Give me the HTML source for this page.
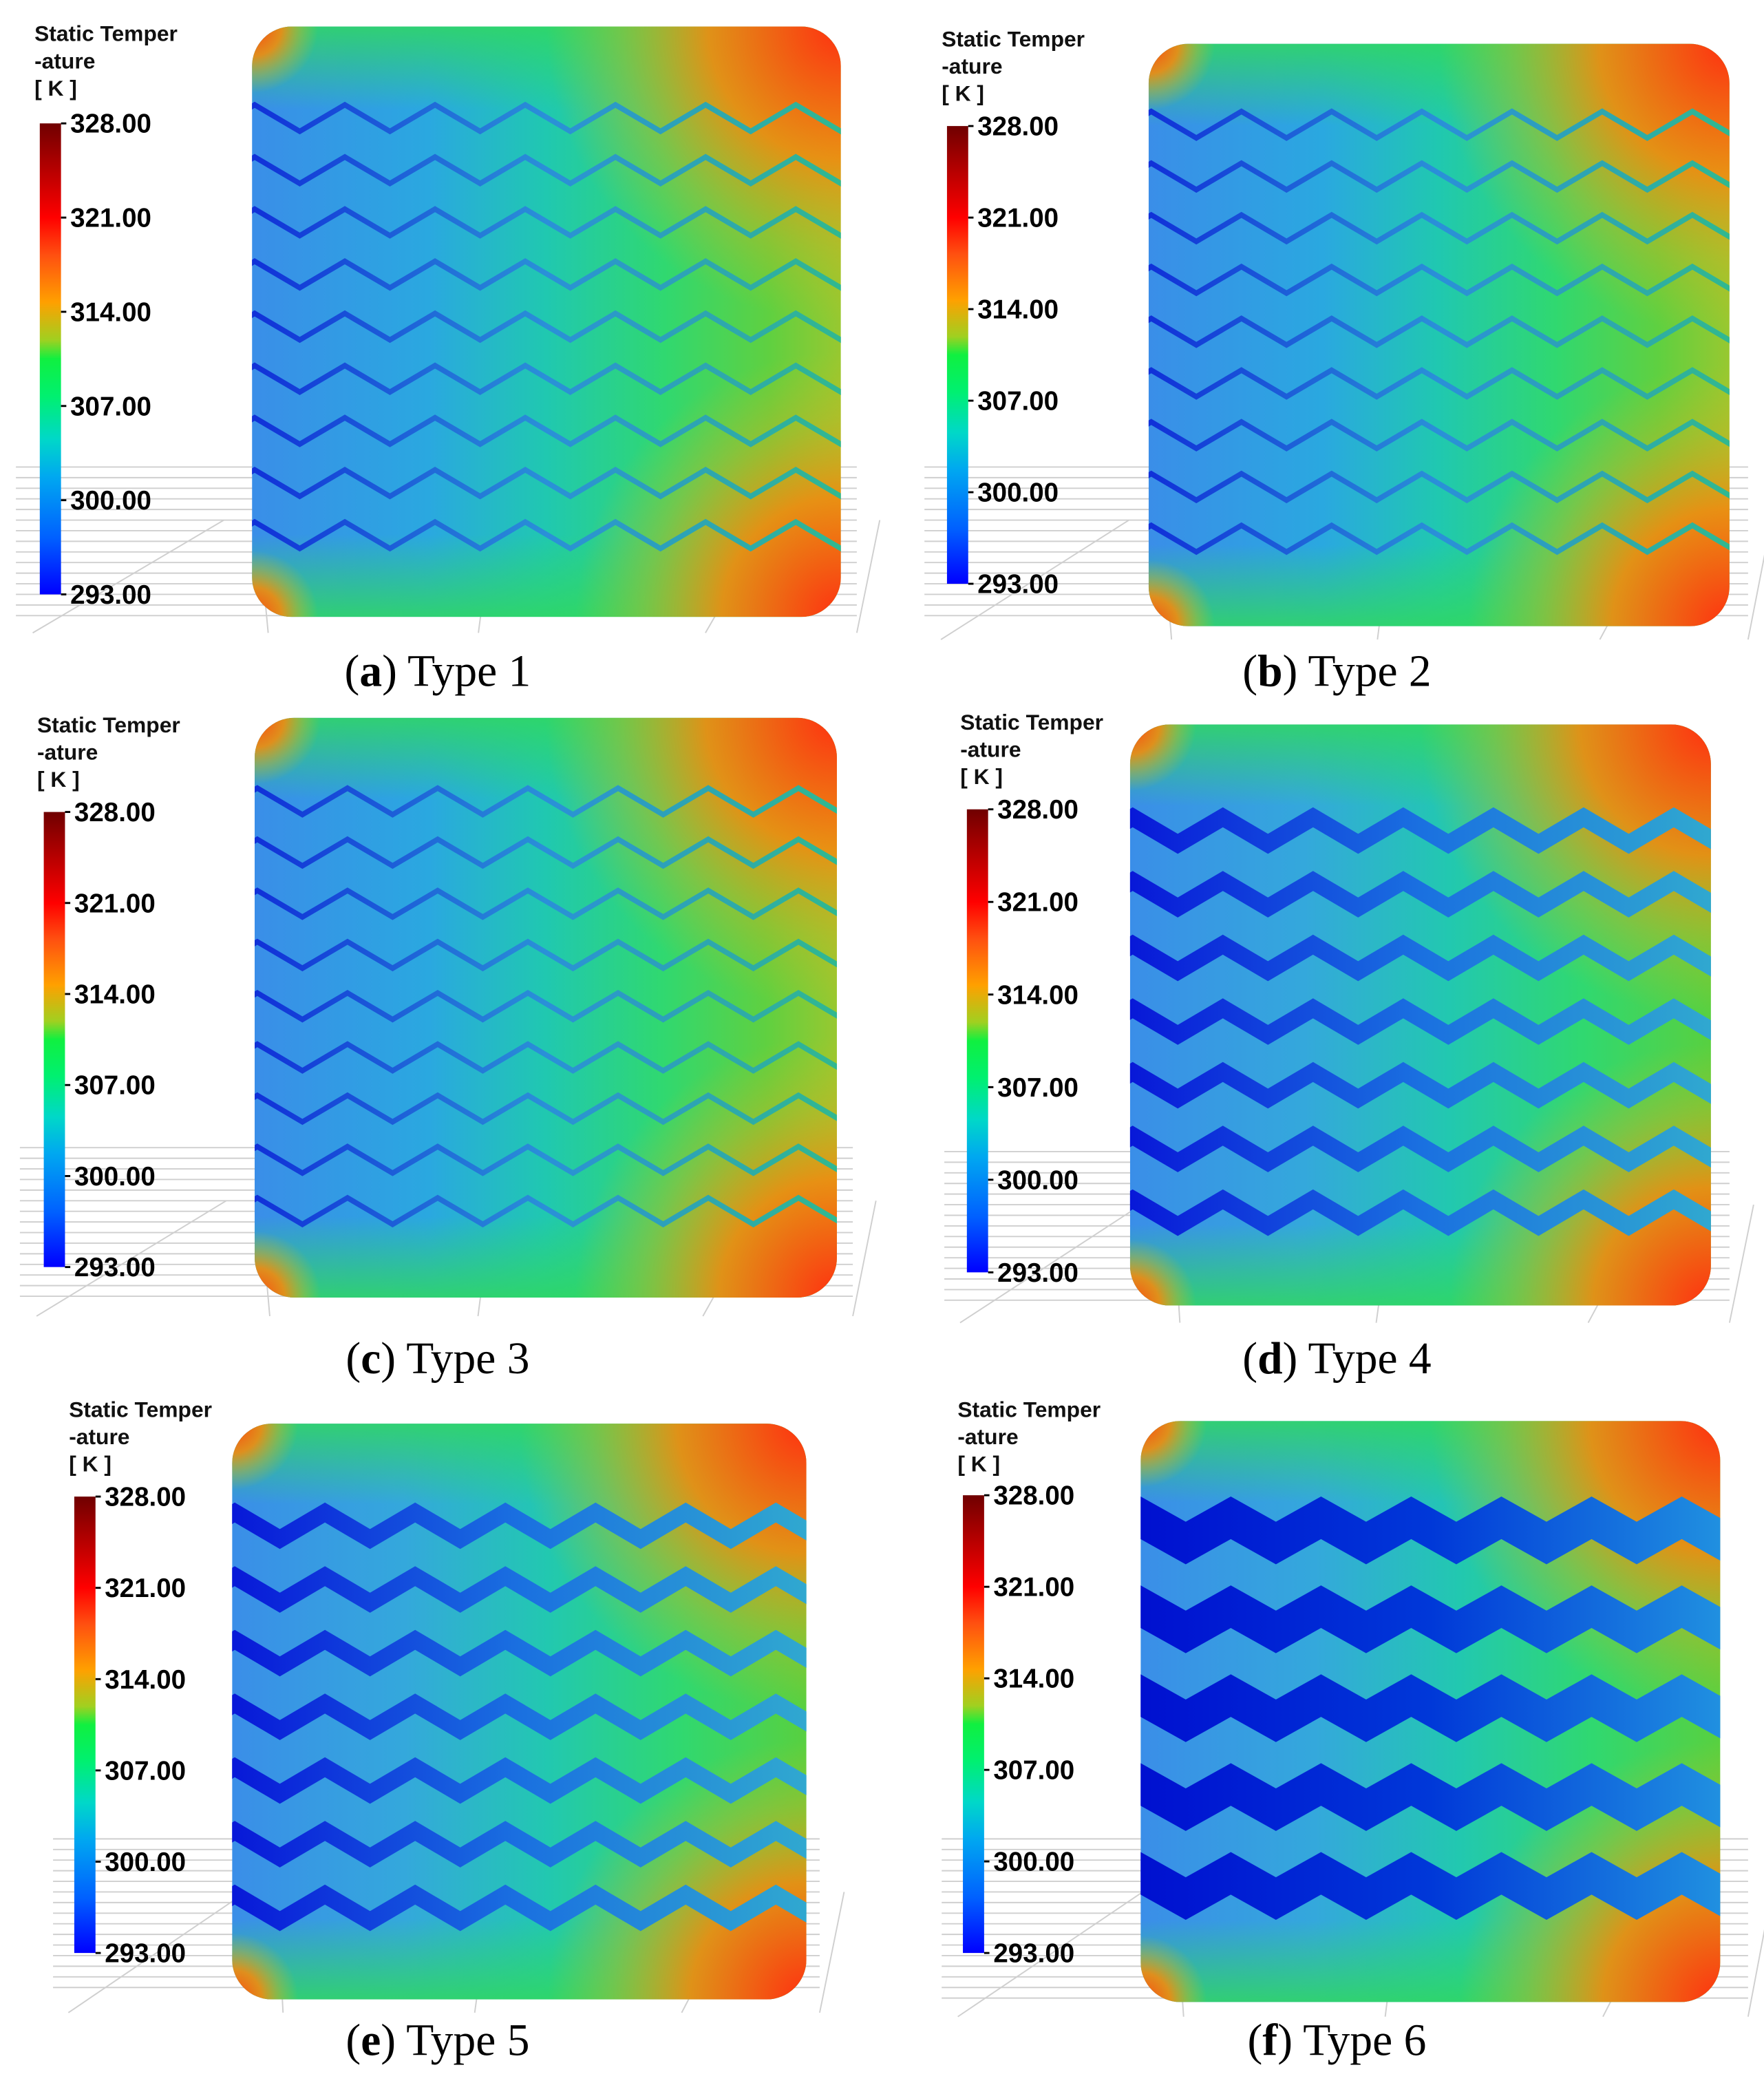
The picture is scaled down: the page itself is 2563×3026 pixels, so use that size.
<!DOCTYPE html>
<html><head><meta charset="utf-8">
<style>
html,body{margin:0;padding:0;background:#fff;}
svg{display:block;}
</style></head>
<body>
<svg id="fig" xmlns="http://www.w3.org/2000/svg" width="2563" height="3026" viewBox="0 0 1330 1570" preserveAspectRatio="none">
<defs>
 <linearGradient id="cbar" x1="0" y1="1" x2="0" y2="0">
  <stop offset="0" stop-color="#0000ff"/>
  <stop offset="0.12" stop-color="#0060ff"/>
  <stop offset="0.25" stop-color="#00a8f0"/>
  <stop offset="0.33" stop-color="#00d8c8"/>
  <stop offset="0.42" stop-color="#00f070"/>
  <stop offset="0.5" stop-color="#10f040"/>
  <stop offset="0.54" stop-color="#a0d020"/>
  <stop offset="0.62" stop-color="#ffa000"/>
  <stop offset="0.72" stop-color="#ff5010"/>
  <stop offset="0.8" stop-color="#ff0000"/>
  <stop offset="1" stop-color="#700000"/>
 </linearGradient>
 <linearGradient id="edgeg" x1="0" y1="0" x2="0" y2="1">
  <stop offset="0" stop-color="#30d860" stop-opacity="0.85"/>
  <stop offset="0.14" stop-color="#30d860" stop-opacity="0"/>
  <stop offset="0.86" stop-color="#30d860" stop-opacity="0"/>
  <stop offset="1" stop-color="#30d860" stop-opacity="0.85"/>
 </linearGradient>
</defs>
</svg>
<script>
const colorbarTicks = ["328.00","321.00","314.00","307.00","300.00","293.00"];
const panelLetters = ["a","b","c","d","e","f"];
const panelTypes = ["Type 1","Type 2","Type 3","Type 4","Type 5","Type 6"];
const bandCounts = [9,9,9,7,7,5];

const NS="http://www.w3.org/2000/svg";
const svg=document.getElementById('fig');
const defs=svg.querySelector('defs');
function mk(tag,attrs,parent){const e=document.createElementNS(NS,tag);for(const k in attrs)e.setAttribute(k,attrs[k]);(parent||svg).appendChild(e);return e;}

const layout=[
 {rx:190,ry:20,rw:444,rh:445,cbx:30,cby:93,cbh:355,tx:26,ty:31,cap:330,capy:517,gx0:12,gx1:646,gy0:352,gy1:465,b0:99,bs:39.3,style:'thin',first:226},
 {rx:866,ry:33,rw:438,rh:439,cbx:714,cby:95,cbh:345,tx:710,ty:35,cap:1008,capy:517,gx0:697,gx1:1318,gy0:352,gy1:470,b0:104,bs:39,style:'thin',first:902},
 {rx:192,ry:541,rw:439,rh:437,cbx:33,cby:612,cbh:343,tx:28,ty:552,cap:330,capy:1035,gx0:15,gx1:643,gy0:865,gy1:980,b0:614,bs:38.6,style:'thin',first:228},
 {rx:852,ry:546,rw:438,rh:438,cbx:729,cby:610,cbh:349,tx:724,ty:550,cap:1008,capy:1035,gx0:712,gx1:1304,gy0:868,gy1:985,b0:636,bs:48,style:'mid',first:888},
 {rx:175,ry:1073,rw:433,rh:434,cbx:56,cby:1128,cbh:344,tx:52,ty:1068,cap:330,capy:1549,gx0:40,gx1:618,gy0:1386,gy1:1505,b0:1160,bs:48,style:'mid',first:211},
 {rx:860,ry:1071,rw:437,rh:438,cbx:726,cby:1127,cbh:345,tx:722,ty:1068,cap:1008,capy:1549,gx0:710,gx1:1318,gy0:1386,gy1:1508,b0:1163,bs:67,style:'thick',first:894}
];

layout.forEach((L,i)=>{
 const g=mk('g',{});
 
 
 const grid=mk('g',{stroke:'#cfcfcf','stroke-width':'1'},g);
 
 
 for(let y=L.gy0;y<=L.gy1;y+=8){mk('line',{x1:L.gx0,y1:y,x2:L.gx1,y2:y},grid);}
 const w=L.gx1-L.gx0;
 [[0.02,0.2],[0.3,0.24],[0.55,0.52],[0.82,0.85],[1.0,0.98]].forEach(p=>{
   mk('line',{x1:L.gx0+w*p[0],y1:L.gy1+12,x2:L.gx0+w*p[1]+30,y2:L.gy0+40},grid);
 });
 const id='p'+i;
 const lg=mk('linearGradient',{id:id+'h',x1:'0',y1:'0',x2:'1',y2:'0'},defs);
 const stops = i>=3 ? [[0,'#3a8ee8'],[0.3,'#34a8dc'],[0.55,'#22c8b0'],[0.78,'#30d870'],[1,'#58d040']]
                     : [[0,'#3a8ee8'],[0.3,'#2aa8e0'],[0.5,'#20c8b0'],[0.7,'#30d870'],[0.88,'#60d040'],[1,'#98c830']];
 stops.forEach(s=>mk('stop',{offset:s[0],'stop-color':s[1]},lg));
 const mkRad=(nm,cx,cy,r,col)=>{const rg=mk('radialGradient',{id:id+nm,cx:cx,cy:cy,r:r,gradientUnits:'userSpaceOnUse'},defs);
   mk('stop',{offset:0,'stop-color':col,'stop-opacity':1},rg);mk('stop',{offset:0.45,'stop-color':'#f28a10','stop-opacity':0.9},rg);mk('stop',{offset:0.75,'stop-color':'#d0b020','stop-opacity':0.4},rg);mk('stop',{offset:1,'stop-color':'#c0c020','stop-opacity':0},rg);};
 mkRad('tr',L.rx+L.rw,L.ry,L.rw*0.5,'#ff3010');
 mkRad('br',L.rx+L.rw,L.ry+L.rh,L.rw*0.45,'#ff3010');
 mkRad('tl',L.rx,L.ry,50,'#ff4010');
 mkRad('bl',L.rx,L.ry+L.rh,50,'#ff4010');
 const cp=mk('clipPath',{id:id+'c'},defs);
 mk('rect',{x:L.rx,y:L.ry,width:L.rw,height:L.rh,rx:30,ry:30},cp);
 const sg=mk('linearGradient',{id:id+'s',x1:L.rx,y1:0,x2:L.rx+L.rw,y2:0,gradientUnits:'userSpaceOnUse'},defs);
 if(L.style==='thin'){[[0,'#1030d8'],[0.5,'#2a90d8'],[1,'#30b890']].forEach(s=>mk('stop',{offset:s[0],'stop-color':s[1]},sg));}
 else if(L.style==='mid'){[[0,'#0818d8'],[0.5,'#1a70e0'],[1,'#30a8d0']].forEach(s=>mk('stop',{offset:s[0],'stop-color':s[1]},sg));}
 else {[[0,'#0010d0'],[0.5,'#0038d8'],[1,'#2090e0']].forEach(s=>mk('stop',{offset:s[0],'stop-color':s[1]},sg));}

 const cont=mk('g',{'clip-path':'url(#'+id+'c)'},g);
 
 
 mk('rect',{x:L.rx,y:L.ry,width:L.rw,height:L.rh,fill:'url(#'+id+'h)'},cont);
 mk('rect',{x:L.rx,y:L.ry,width:L.rw,height:L.rh,fill:'url(#edgeg)'},cont);
 ['tr','br','tl','bl'].forEach(n=>mk('rect',{x:L.rx,y:L.ry,width:L.rw,height:L.rh,fill:'url(#'+id+n+')'},cont));
 const amp = L.style==='thick'?19:20, per=68;
 const sw = L.style==='thin'?4:(L.style==='mid'?13:28);
 for(let b=0;b<bandCounts[i];b++){
   const yv=L.b0+b*L.bs;
   let d='M'+(L.rx-per)+','+(yv-amp);
   for(let x=L.first-per;x<L.rx+L.rw+per;x+=per){ d+=' L'+x+','+yv+' L'+(x+per/2)+','+(yv-amp); }
   const p=mk('path',{d:d,fill:'none',stroke:'url(#'+id+'s)','stroke-width':sw,'stroke-linejoin':'miter'},cont);
   
   
 }
 const cb=mk('rect',{x:L.cbx,y:L.cby,width:16,height:L.cbh,fill:'url(#cbar)'},g);
 
 
 const ttl=mk('text',{x:L.tx,y:L.ty,'font-family':'Liberation Sans, sans-serif','font-weight':'bold','font-size':'16.5',fill:'#111'},g);
 
 
 ['Static Temper','-ature','[ K ]'].forEach((t,k)=>{const ts=mk('tspan',{x:L.tx,dy:k?20.5:0},ttl);ts.textContent=t;});
 colorbarTicks.forEach((t,k)=>{
   const y=L.cby+k*L.cbh/(colorbarTicks.length-1);
   mk('line',{x1:L.cbx+16,y1:y,x2:L.cbx+20,y2:y,stroke:'#000','stroke-width':1.5},g);
   const tx=mk('text',{x:L.cbx+23,y:y+7,'font-family':'Liberation Sans, sans-serif','font-weight':'bold','font-size':'20',fill:'#000'},g);
   
   
   tx.textContent=t;
 });
 const cap=mk('text',{x:L.cap,y:L.capy,'text-anchor':'middle','font-family':'Liberation Serif, serif','font-size':'34',fill:'#000'},g);
 
 
 const a=mk('tspan',{},cap);a.textContent='(';
 const bb=mk('tspan',{'font-weight':'bold'},cap);bb.textContent=panelLetters[i];
 const c=mk('tspan',{},cap);c.textContent=') '+panelTypes[i];
});
</script>
</body></html>
